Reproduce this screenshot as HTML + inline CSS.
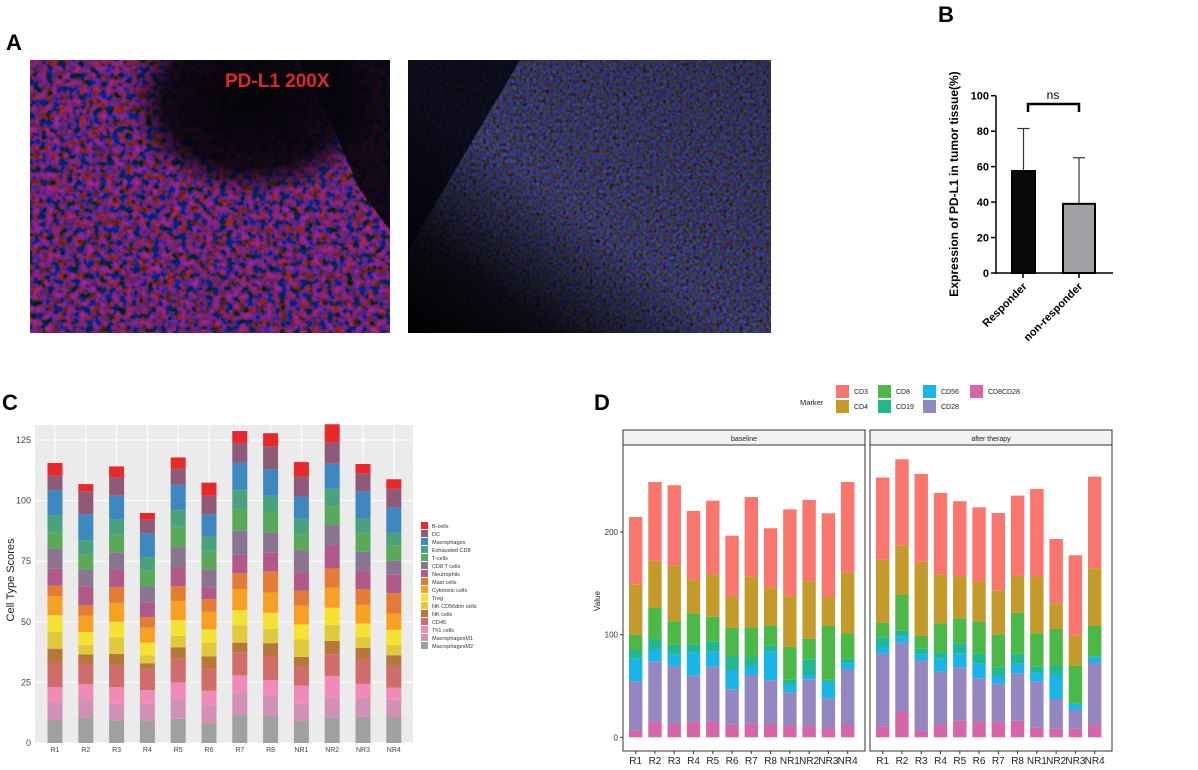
<!DOCTYPE html>
<html><head><meta charset="utf-8">
<style>
html,body{margin:0;padding:0;background:#fff;}
body{width:1198px;height:765px;overflow:hidden;font-family:"Liberation Sans",sans-serif;}
svg text{font-family:"Liberation Sans",sans-serif;}
</style></head>
<body>
<svg id="fig" width="1198" height="765" viewBox="0 0 1198 765" xmlns="http://www.w3.org/2000/svg">
<defs>
<filter id="texA" x="0" y="0" width="100%" height="100%">
<feTurbulence type="fractalNoise" baseFrequency="0.15" numOctaves="2" seed="3" result="n"/>
<feColorMatrix in="n" type="matrix" values="1.8 0 0 0 -0.65  0 0 0 0 0.03  0 1.5 0 0 -0.45  0 0 0 0 1"/>
</filter>
<filter id="texB" x="0" y="0" width="100%" height="100%">
<feTurbulence type="fractalNoise" baseFrequency="0.3" numOctaves="2" seed="7" result="n"/>
<feColorMatrix in="n" type="matrix" values="0.25 0 0 0 -0.05  0 0.25 0 0 -0.05  0 0 1.6 0 -0.55  0 0 0 0 1"/>
</filter>
<radialGradient id="darkA" cx="0.62" cy="0.15" r="0.35"><stop offset="0" stop-color="#05050a" stop-opacity="1"/><stop offset="0.7" stop-color="#05050a" stop-opacity="0.85"/><stop offset="1" stop-color="#05050a" stop-opacity="0"/></radialGradient>
<linearGradient id="bandB" x1="1" y1="0" x2="0" y2="1"><stop offset="0" stop-color="#000" stop-opacity="0.2"/><stop offset="0.55" stop-color="#000" stop-opacity="0.05"/><stop offset="0.8" stop-color="#000" stop-opacity="0.8"/><stop offset="1" stop-color="#000" stop-opacity="1"/></linearGradient>
</defs>

<text x="6" y="50" font-size="22" font-weight="bold">A</text>
<g>
<rect x="30" y="60" width="360" height="273" fill="#120818"/>
<rect x="30" y="60" width="360" height="273" filter="url(#texA)" opacity="0.85"/>
<rect x="30" y="60" width="360" height="273" fill="url(#darkA)"/>
<polygon points="300,60 390,60 390,230 360,190 330,120" fill="#06060c" opacity="0.85"/>
<rect x="30" y="60" width="360" height="273" fill="#000" opacity="0.15"/>
<text x="225" y="87" font-size="19" font-weight="bold" fill="#e0282b">PD-L1 200X</text>
</g>
<g>
<rect x="408" y="60" width="363" height="273" fill="#05051a"/>
<rect x="408" y="60" width="363" height="273" filter="url(#texB)" opacity="0.75"/>
<rect x="408" y="60" width="363" height="273" fill="url(#bandB)"/>
<polygon points="408,60 520,60 408,250" fill="#03030a" opacity="0.8"/>
</g>

<text x="938" y="22" font-size="22" font-weight="bold">B</text>
<g id="panelB"></g>

<text x="2" y="410" font-size="22" font-weight="bold">C</text>
<g id="panelC"></g>

<text x="594" y="410" font-size="22" font-weight="bold">D</text>
<g id="panelD"></g>
</svg>

<script>
// ---------- Panel B data ----------
const bGroups = ["Responder","non-responder"];
const bMeans = [57.5, 39];
const bErr = [24, 26];
const bTicks = [0,20,40,60,80,100];

// ---------- Panel C data (cumulative top of each series per sample) ----------
const cSamples = ["R1","R2","R3","R4","R5","R6","R7","R8","NR1","NR2","NR3","NR4"];
const cSeriesNames = ["MacrophagesM2","MacrophagesM1","Th1 cells","CD45","NK cells","NK CD56dim cells","Treg","Cytotoxic cells","Mast cells","Neutrophils","CD8 T cells","T-cells","Exhausted CD8","Macrophages","DC","B-cells"];
const cM2 =   [9.5,10.5,9.4,9.1,10,8.1,11.8,11.4,8.9,10.5,10.9,10.7];
const cM1 =   [17.1,18.4,16.2,16.2,18.2,15.6,20.6,19.7,16.2,18.9,18.6,17.8];
const cTh1 =  [23,24.2,23.1,21.8,24.9,21.6,27.9,26,23.7,27.7,24.4,22.9];
const cCD45 = [33,33,31.9,30.6,34.8,30.6,37.4,35.7,31.4,36.6,34.4,31.8];
const cNK =   [38.9,36.5,36.8,32.9,39.5,35.7,41.4,41.2,35.5,42.1,39.2,36.2];
const cNKd =  [45.8,40.5,43.6,36.1,44.2,41.4,48.6,47.1,42.7,48.7,43.8,40.5];
const cTreg = [52.7,45.8,50,41.4,50.7,46.9,54.8,53.7,48.9,55.8,49.3,46.7];
const cCyto = [60.6,52.6,57.8,47.6,58.6,54.1,63.5,62.1,56.6,64,57,53.3];
const cMast = [65,56.9,64.3,51.9,64.7,59.3,70,70.8,62.9,72,63.5,61.8];
const cNeut = [71.9,64.7,71.6,58.1,72.4,64.2,77.6,78.5,70.5,81.5,70.8,69.4];
const cCD8T = [80.2,71.4,78.7,64.6,80.8,71.7,87.6,87,79.4,89.9,78.9,75.2];
const cT =    [86.9,77.8,85.9,71.2,89.2,79.3,96.5,95.3,85.9,97.6,86.7,81.4];
const cExh =  [93.8,83.7,92.1,76.7,96,85.4,104.5,102,92.5,104.9,92.6,86.7];
const cMac =  [104.3,94.4,102,86.5,106.6,94.4,115.6,113,101.7,115.2,103.8,97.2];
const cDC =   [110.3,103.9,109.7,92.1,113.2,102,123.8,122.4,109.9,124,111.1,104.9];
const cB =    [115.5,106.8,114.1,94.9,117.8,107.4,128.7,127.8,115.9,131.5,115.1,108.8];
const cTicks = [0,25,50,75,100,125];

// ---------- Panel D data (cumulative top of each marker per sample) ----------
const dSamples = ["R1","R2","R3","R4","R5","R6","R7","R8","NR1","NR2","NR3","NR4"];
const dMarkers = ["CD8CD28","CD28","CD56","CD19","CD8","CD4","CD3"];
const dBaseCD8CD28 = [6.5,15,13,15,15,12.3,13.3,13,11,11,9,12];
const dBaseCD28 =    [54.5,74,69.5,60,68.8,46.8,60.7,55.5,44,56.5,38,66];
const dBaseCD56 =    [76.6,86,80.5,83,83.4,65.6,69.5,83.4,51,60.7,54,72];
const dBaseCD19 =    [85,95.8,90,90,93.5,79.2,78.2,89.6,56,76,56,76.6];
const dBaseCD8 =     [100,126,113,120.8,117.5,106.5,107,108.8,88,96,108.4,101];
const dBaseCD4 =     [148.7,172,167,153.6,158.8,137.7,156.5,145.8,138,152,137.7,160.7];
const dBaseCD3 =     [214.6,248.7,245.5,220.5,230.5,196.4,234,203.6,222,231.2,218.2,248.7];
const dAftCD8CD28 =  [10.4,24.7,6.2,12,16.2,15,15,16.2,9.7,8.4,8.4,12];
const dAftCD28 =     [81.5,92.2,74.7,64,68.2,57.5,52.3,62.3,54.2,37.3,26.6,72.4];
const dAftCD56 =     [88,98,80.8,76.6,81.8,72,59.7,71.8,63,60.7,32.8,77.6];
const dAftCD19 =     [97.4,104.2,86.7,83,91.6,81.2,68.2,81.5,69.2,69.5,32.8,79];
const dAftCD8 =      [111.4,138.6,98.7,111,115.9,112.7,100.3,121.4,101.3,105.5,69.5,108.4];
const dAftCD4 =      [173.4,187,171,158.8,157,151.6,143.2,157.5,156.2,130.5,99.4,164.6];
const dAftCD3 =      [253,270.8,256.5,238,229.9,224,218.5,235.4,241.9,193.2,177.3,253.9];
const dTicks = [0,100,200];

const NS="http://www.w3.org/2000/svg";
function mk(parent,tag,attrs,text){const e=document.createElementNS(NS,tag);for(const k in attrs)e.setAttribute(k,attrs[k]);if(text!==undefined)e.textContent=text;parent.appendChild(e);return e;}

// ---------- Panel B ----------
(function(){
const g=document.getElementById('panelB');
const y0=273,y100=95.7,ax=996;
const yB=v=>y0-(y0-y100)*v/100;
const xs=[[1012,1035],[1063,1095]];
const fills=["#0a0a0a","#a2a1a6"];
bMeans.forEach((m,i)=>{
 const ex=(xs[i][0]+xs[i][1])/2;
 const eb=mk(g,'line',{x1:ex,x2:ex,y1:yB(m),y2:yB(m+bErr[i]),stroke:'#333','stroke-width':1.2});
 
 
 const cap=mk(g,'line',{x1:ex-6,x2:ex+6,y1:yB(m+bErr[i]),y2:yB(m+bErr[i]),stroke:'#333','stroke-width':1.2});
 
 
 const r=mk(g,'rect',{x:xs[i][0],y:yB(m),width:xs[i][1]-xs[i][0],height:y0-yB(m),fill:fills[i],stroke:'#000','stroke-width':2});
 
 
 const t=mk(g,'text',{x:ex+4,y:y0+14,'font-size':11,'font-weight':'bold','text-anchor':'end',transform:`rotate(-45 ${ex+4} ${y0+14})`},bGroups[i]);
 
 
});
mk(g,'line',{x1:ax,x2:ax,y1:yB(100),y2:y0+1,stroke:'#000','stroke-width':1.5});
mk(g,'line',{x1:ax,x2:1113,y1:y0,y2:y0,stroke:'#000','stroke-width':1.5});
[1023,1079].forEach(x=>mk(g,'line',{x1:x,x2:x,y1:y0,y2:y0+5,stroke:'#000','stroke-width':1.5}));
bTicks.forEach(v=>{
 mk(g,'line',{x1:ax-5,x2:ax,y1:yB(v),y2:yB(v),stroke:'#000','stroke-width':1.5});
 const t=mk(g,'text',{x:ax-7,y:yB(v)+4,'font-size':11,'font-weight':'bold','text-anchor':'end'},v);
 
 
});
mk(g,'path',{d:'M1028,112 L1028,104 L1079,104 L1079,112',fill:'none',stroke:'#000','stroke-width':2.5});
const ns=mk(g,'text',{x:1053,y:99,'font-size':12,'text-anchor':'middle'},'ns');


const yt=mk(g,'text',{x:958,y:184,'font-size':12,'font-weight':'bold','text-anchor':'middle',transform:'rotate(-90 958 184)'},'Expression of PD-L1 in tumor tissue(%)');


})();

// ---------- Panel C ----------
(function(){
const g=document.getElementById('panelC');
const series=[cM2,cM1,cTh1,cCD45,cNK,cNKd,cTreg,cCyto,cMast,cNeut,cCD8T,cT,cExh,cMac,cDC,cB];
const cols=["#a0a0a0","#d190b5","#f08ab8","#d06c6a","#b5773a","#e0c93e","#f5e232","#f6a124","#e57c36","#b05a8a","#8a7590","#5aa85a","#4aa17e","#3f88bf","#8e5a78","#e8282b"];
const L=35,R=413,T=425,B=743;
const y=v=>B-(v/125)*(B-440);
const x=i=>55+i*30.8;
mk(g,'rect',{x:L,y:T,width:R-L,height:B-T,fill:'#ebebeb'});
cTicks.forEach((v,k)=>{
 mk(g,'line',{x1:L,x2:R,y1:y(v),y2:y(v),stroke:'#fff','stroke-width':1});
 if(k<cTicks.length-1) mk(g,'line',{x1:L,x2:R,y1:y(v+12.5),y2:y(v+12.5),stroke:'#f6f6f6','stroke-width':0.5});
 const t=mk(g,'text',{x:L-4,y:y(v)+3,'font-size':9,fill:'#444','text-anchor':'end'},v);
 
 
});
cSamples.forEach((s,i)=>{
 mk(g,'line',{x1:x(i),x2:x(i),y1:T,y2:B,stroke:'#fff','stroke-width':1});
 let prev=0;
 series.forEach((arr,k)=>{
  const r=mk(g,'rect',{x:x(i)-7.5,y:y(arr[i]),width:15,height:Math.max(0,y(prev)-y(arr[i])),fill:cols[k]});
  
  
  prev=arr[i];
 });
 const t=mk(g,'text',{x:x(i),y:B+9,'font-size':7,fill:'#444','text-anchor':'middle'},s);
 
 
});
const yt=mk(g,'text',{x:14,y:580,'font-size':11,fill:'#222','text-anchor':'middle',transform:'rotate(-90 14 580)'},'Cell Type Scores');


for(let k=15;k>=0;k--){
 const yy=522+(15-k)*8;
 const r=mk(g,'rect',{x:421,y:yy,width:7,height:7,fill:cols[k]});
 
 
 const t=mk(g,'text',{x:432,y:yy+6,'font-size':5.5,fill:'#333'},cSeriesNames[k]);
 
 
}
})();

// ---------- Panel D ----------
(function(){
const g=document.getElementById('panelD');
const cols=["#d865a8","#9487c0","#1ab5e8","#21b78f","#4cb848","#c49a2b","#f8766d"];
const base=[dBaseCD8CD28,dBaseCD28,dBaseCD56,dBaseCD19,dBaseCD8,dBaseCD4,dBaseCD3];
const aft=[dAftCD8CD28,dAftCD28,dAftCD56,dAftCD19,dAftCD8,dAftCD4,dAftCD3];
const y0=737.3,py=1.0267;
const y=v=>y0-v*py;
const panels=[{L:623,R:865,name:'baseline',data:base},{L:870,R:1112,name:'after therapy',data:aft}];
const T=445,B=751;
panels.forEach((p,pi)=>{
 const st=mk(g,'rect',{x:p.L,y:430,width:p.R-p.L,height:15,fill:'#f2f2f2',stroke:'#333','stroke-width':1});
 
 
 const tt=mk(g,'text',{x:(p.L+p.R)/2,y:441,'font-size':7,fill:'#222','text-anchor':'middle'},p.name);
 
 
 mk(g,'rect',{x:p.L,y:T,width:p.R-p.L,height:B-T,fill:'#fff',stroke:'#333','stroke-width':1});
 const x=i=>p.L+12.7+i*19.27;
 dSamples.forEach((s,i)=>{
  let prev=0;
  p.data.forEach((arr,k)=>{
   const r=mk(g,'rect',{x:x(i)-6.7,y:y(arr[i]),width:13.4,height:Math.max(0,y(prev)-y(arr[i])),fill:cols[k]});
   
   
   prev=arr[i];
  });
  mk(g,'line',{x1:x(i),x2:x(i),y1:B,y2:B+3,stroke:'#333','stroke-width':1});
  const t=mk(g,'text',{x:x(i),y:B+13,'font-size':10,fill:'#222','text-anchor':'middle'},s);
  
  
 });
});
dTicks.forEach(v=>{
 mk(g,'line',{x1:620,x2:623,y1:y(v),y2:y(v),stroke:'#333','stroke-width':1});
 const t=mk(g,'text',{x:618,y:y(v)+3,'font-size':8,fill:'#333','text-anchor':'end'},v);
 
 
});
const yt=mk(g,'text',{x:600,y:601,'font-size':8,fill:'#222','text-anchor':'middle',transform:'rotate(-90 600 601)'},'Value');


const lt=mk(g,'text',{x:800,y:405,'font-size':7.5,fill:'#222'},'Marker');


const leg=[["CD3",6,836,385],["CD4",5,836,400],["CD8",4,878,385],["CD19",3,878,400],["CD56",2,923,385],["CD28",1,923,400],["CD8CD28",0,970,385]];
leg.forEach(([n,k,lx,ly])=>{
 const r=mk(g,'rect',{x:lx,y:ly,width:13,height:13,fill:cols[k]});
 
 
 const t=mk(g,'text',{x:lx+18,y:ly+9,'font-size':7,fill:'#222'},n);
 
 
});
})();
</script>
</body></html>
